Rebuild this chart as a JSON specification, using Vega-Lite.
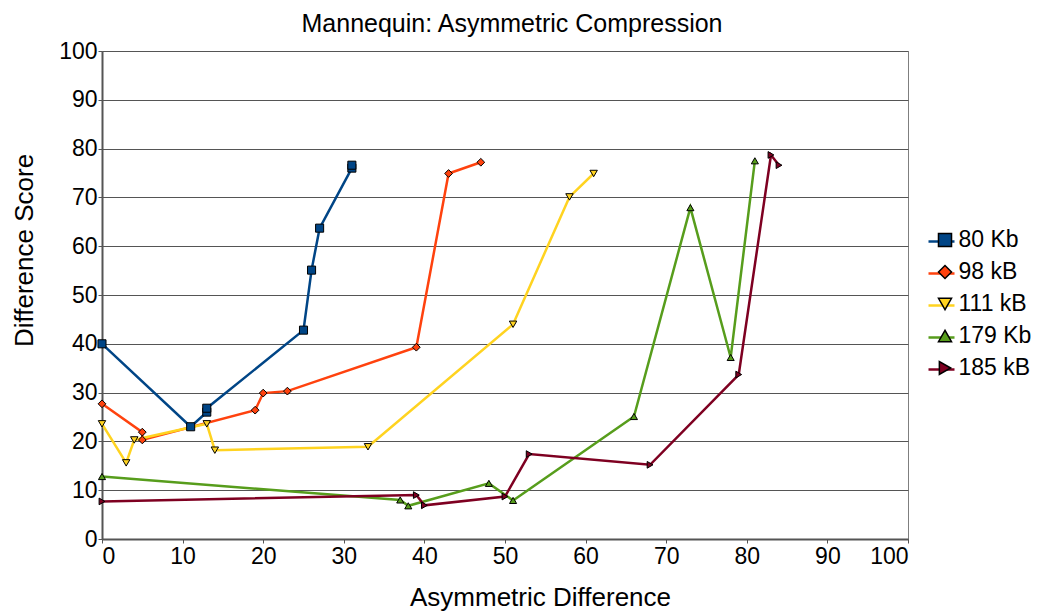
{
  "$schema": "https://vega.github.io/schema/vega-lite/v6.json",
  "autosize": {"type": "none"},
  "width": 806,
  "height": 488,
  "padding": {"left": 102, "top": 51, "right": 131, "bottom": 76},
  "background": "white",
  "config": {
    "font": "Liberation Sans",
    "view": {"stroke": "#7f7f7f", "strokeWidth": 1},
    "legend": {"padding": 0}
  },
  "title": {"text": "Mannequin: Asymmetric Compression", "fontSize": 25, "fontWeight": "normal", "color": "#000000", "offset": 3, "dx": 7},
  "data": {"values": [
    {"s": "80 Kb", "i": 1, "x": 0, "y": 40},
    {"s": "80 Kb", "i": 2, "x": 11, "y": 23},
    {"s": "80 Kb", "i": 3, "x": 13, "y": 26},
    {"s": "80 Kb", "i": 4, "x": 13, "y": 26.8},
    {"s": "80 Kb", "i": 5, "x": 25, "y": 42.8},
    {"s": "80 Kb", "i": 6, "x": 26, "y": 55.1},
    {"s": "80 Kb", "i": 7, "x": 27, "y": 63.7},
    {"s": "80 Kb", "i": 8, "x": 31, "y": 76},
    {"s": "80 Kb", "i": 9, "x": 31, "y": 76.6},
    {"s": "98 kB", "i": 1, "x": 0, "y": 27.7},
    {"s": "98 kB", "i": 2, "x": 5, "y": 21.9},
    {"s": "98 kB", "i": 3, "x": 5, "y": 20.3},
    {"s": "98 kB", "i": 4, "x": 19, "y": 26.4},
    {"s": "98 kB", "i": 5, "x": 20, "y": 29.9},
    {"s": "98 kB", "i": 6, "x": 23, "y": 30.3},
    {"s": "98 kB", "i": 7, "x": 39, "y": 39.3},
    {"s": "98 kB", "i": 8, "x": 43, "y": 74.9},
    {"s": "98 kB", "i": 9, "x": 47, "y": 77.2},
    {"s": "111 kB", "i": 1, "x": 0, "y": 23.6},
    {"s": "111 kB", "i": 2, "x": 3, "y": 15.6},
    {"s": "111 kB", "i": 3, "x": 4, "y": 20.3},
    {"s": "111 kB", "i": 4, "x": 13, "y": 23.6},
    {"s": "111 kB", "i": 5, "x": 14, "y": 18.2},
    {"s": "111 kB", "i": 6, "x": 33, "y": 18.9},
    {"s": "111 kB", "i": 7, "x": 51, "y": 44},
    {"s": "111 kB", "i": 8, "x": 58, "y": 70.1},
    {"s": "111 kB", "i": 9, "x": 61, "y": 74.9},
    {"s": "179 Kb", "i": 1, "x": 0, "y": 12.8},
    {"s": "179 Kb", "i": 2, "x": 37, "y": 8},
    {"s": "179 Kb", "i": 3, "x": 38, "y": 6.8},
    {"s": "179 Kb", "i": 4, "x": 48, "y": 11.4},
    {"s": "179 Kb", "i": 5, "x": 51, "y": 7.9},
    {"s": "179 Kb", "i": 6, "x": 66, "y": 25.1},
    {"s": "179 Kb", "i": 7, "x": 73, "y": 67.9},
    {"s": "179 Kb", "i": 8, "x": 78, "y": 37.2},
    {"s": "179 Kb", "i": 9, "x": 81, "y": 77.5},
    {"s": "185 kB", "i": 1, "x": 0, "y": 7.7},
    {"s": "185 kB", "i": 2, "x": 39, "y": 9},
    {"s": "185 kB", "i": 3, "x": 40, "y": 6.9},
    {"s": "185 kB", "i": 4, "x": 50, "y": 8.7},
    {"s": "185 kB", "i": 5, "x": 53, "y": 17.4},
    {"s": "185 kB", "i": 6, "x": 68, "y": 15.2},
    {"s": "185 kB", "i": 7, "x": 79, "y": 33.7},
    {"s": "185 kB", "i": 8, "x": 83, "y": 78.7},
    {"s": "185 kB", "i": 9, "x": 84, "y": 76.6}
  ]},
  "encoding": {
    "x": {"field": "x", "type": "quantitative", "scale": {"domain": [0, 100], "nice": false},
      "axis": {"title": "Asymmetric Difference", "titleFontSize": 26, "titleFontWeight": "normal", "titleColor": "#000",
        "titleX": 438, "titleY": 58, "titleAlign": "center", "titleBaseline": "middle",
        "labelFontSize": 23, "labelColor": "#000", "labelPadding": 2, "labelOverlap": false, "values": [0,10,20,30,40,50,60,70,80,90,100],
        "ticks": true, "tickSize": 4, "tickColor": "#555", "grid": false, "domainColor": "#555", "domainWidth": 2}},
    "y": {"field": "y", "type": "quantitative", "scale": {"domain": [0, 100], "nice": false},
      "axis": {"title": "Difference Score", "titleFontSize": 26, "titleFontWeight": "normal", "titleColor": "#000",
        "titleX": -78, "titleY": 199, "titleAlign": "center", "titleBaseline": "middle", "titleAngle": 270,
        "labelFontSize": 23, "labelColor": "#000", "labelPadding": 1, "labelOverlap": false, "values": [0,10,20,30,40,50,60,70,80,90,100],
        "ticks": true, "tickSize": 4, "tickColor": "#555", "grid": true, "gridColor": "#555", "gridWidth": 1.2, "domainColor": "#555", "domainWidth": 2}}
  },
  "resolve": {"legend": {"color": "independent", "shape": "independent"}},
  "layer": [
    {"mark": {"type": "line", "strokeWidth": 2.5},
      "encoding": {
        "order": {"field": "i", "type": "quantitative"},
        "color": {"field": "s", "type": "nominal",
          "scale": {"domain": ["80 Kb", "98 kB", "111 kB", "179 Kb", "185 kB"], "range": ["#004586", "#ff420e", "#ffd320", "#579d1c", "#7e0021"]},
          "legend": {"title": null, "orient": "none", "legendX": 825, "legendY": 176, "labelFontSize": 23, "labelExpr": "''", "rowPadding": 5, "symbolType": "stroke", "symbolSize": 676, "symbolStrokeWidth": 2.5, "labelOffset": 0}}
      }},
    {"mark": {"type": "point", "filled": true, "stroke": "#000", "strokeWidth": 1, "opacity": 1},
      "encoding": {
        "color": {"field": "s", "type": "nominal",
          "scale": {"domain": ["80 Kb", "98 kB", "111 kB", "179 Kb", "185 kB"], "range": ["#004586", "#ff420e", "#ffd320", "#579d1c", "#7e0021"]},
          "legend": {"title": null, "orient": "none", "legendX": 831.5, "legendY": 177.5, "labelFontSize": 23, "labelColor": "#000", "rowPadding": 8, "symbolSize": 170, "labelOffset": 2,
            "encode": {"symbols": {"update": {"stroke": {"value": "#000"}, "strokeWidth": {"value": 1}}}}}},
        "shape": {"field": "s", "type": "nominal", "scale": {"domain": ["80 Kb", "98 kB", "111 kB", "179 Kb", "185 kB"], "range": ["square", "diamond", "triangle-down", "triangle-up", "triangle-right"]}},
        "size": {"field": "s", "type": "nominal", "legend": null, "scale": {"domain": ["80 Kb", "98 kB", "111 kB", "179 Kb", "185 kB"], "range": [65, 45, 60, 60, 60]}}
      }}
  ]
}
